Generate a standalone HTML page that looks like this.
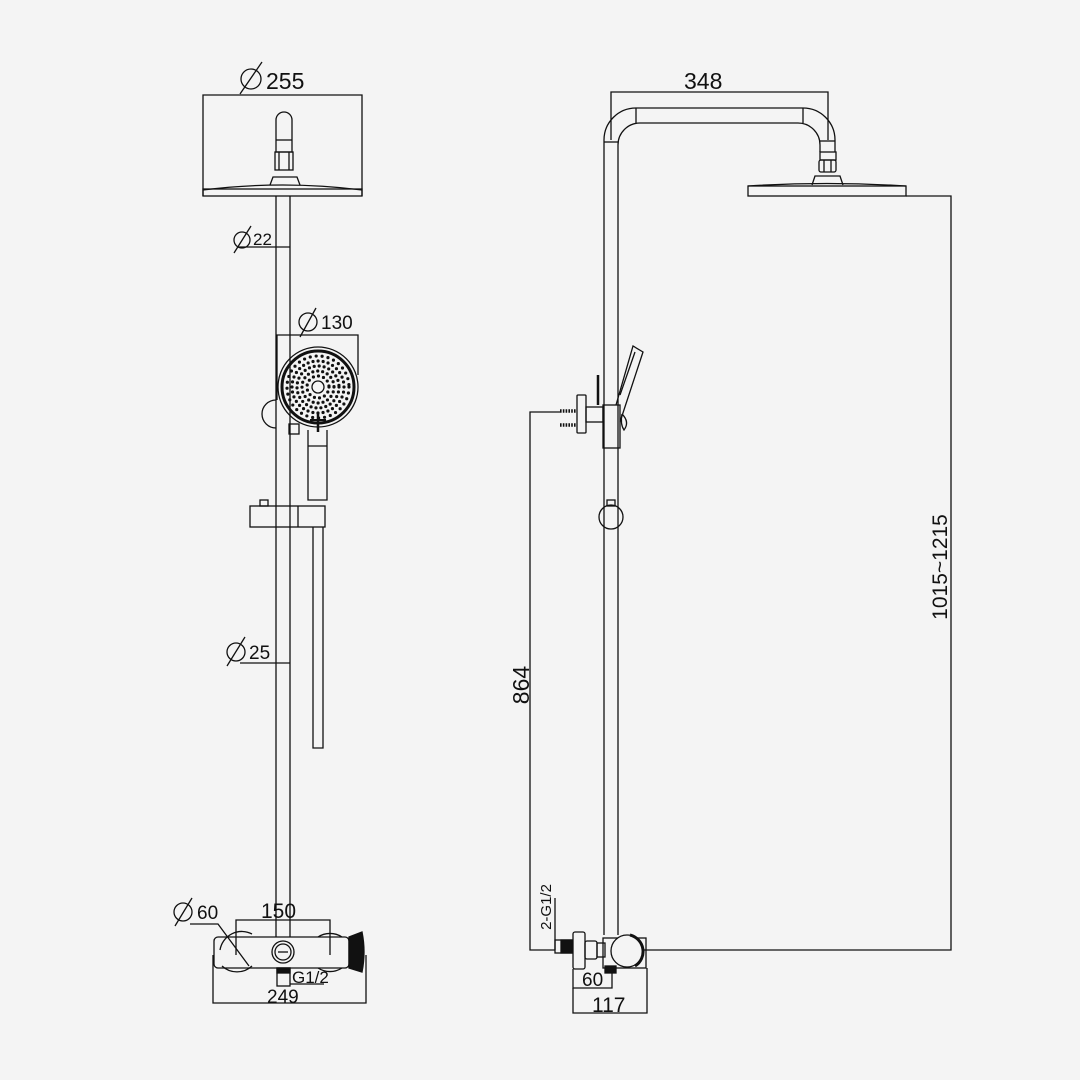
<!DOCTYPE html>
<html><head><meta charset="utf-8"><style>
html,body{margin:0;padding:0;background:#f4f4f4}
svg{display:block}
text{font-family:"Liberation Sans",sans-serif;fill:#111}
</style></head><body>
<svg width="1080" height="1080" viewBox="0 0 1080 1080" xmlns="http://www.w3.org/2000/svg">
<rect width="1080" height="1080" fill="#f4f4f4"/>
<g fill="none" stroke="#111" stroke-width="1.3">
<!-- ===== LEFT VIEW ===== -->
<path d="M203 196 V95 H362 V196"/>
<line x1="240" y1="94" x2="262" y2="62"/>
<circle cx="251" cy="79" r="10"/>
<path d="M276 152 V120 A8 8 0 0 1 292 120 V152 Z"/>
<line x1="276" y1="140" x2="292" y2="140"/>
<rect x="275" y="152" width="18" height="18"/>
<line x1="279" y1="152" x2="279" y2="170"/><line x1="289" y1="152" x2="289" y2="170"/>
<path d="M270 185 L273 177 H297 L300 185"/>
<path d="M203 190 Q283 180 362 190"/>
<rect x="203" y="189" width="159" height="7"/>
<line x1="276" y1="196" x2="276" y2="937"/>
<line x1="290" y1="196" x2="290" y2="937"/>
<line x1="237" y1="247" x2="290" y2="247"/>
<circle cx="242" cy="240" r="8"/><line x1="234" y1="253" x2="251" y2="226"/>
<path d="M277 400 V335 H358 V375"/>
<line x1="300" y1="337" x2="316" y2="308"/>
<circle cx="308" cy="322" r="9"/>
<circle cx="318" cy="387" r="40"/>
<circle cx="318" cy="387" r="36" stroke-width="3"/>
<circle cx="318" cy="387" r="6"/>
<g stroke-linecap="round" stroke-width="3.2">
<circle cx="318" cy="387" r="11" stroke-dasharray="0 5.2"/>
<circle cx="318" cy="387" r="16" stroke-dasharray="0 5"/>
<circle cx="318" cy="387" r="21" stroke-dasharray="0 5"/>
<circle cx="318" cy="387" r="26" stroke-dasharray="0 5.1"/>
<circle cx="318" cy="387" r="31" stroke-dasharray="0 6"/>
</g>
<line x1="318" y1="414" x2="318" y2="432" stroke-width="2.5"/>
<line x1="310" y1="420" x2="326" y2="420" stroke-width="2"/>
<path d="M308 430 V500 H327 V430"/>
<line x1="308" y1="446" x2="327" y2="446"/>
<path d="M276 400 A14 14 0 0 0 276 428"/>
<rect x="289" y="424" width="10" height="10"/>
<rect x="250" y="506" width="75" height="21"/>
<line x1="298" y1="506" x2="298" y2="527"/>
<rect x="260" y="500" width="8" height="6"/>
<path d="M313 527 V748 H323 V527"/>
<line x1="240" y1="663" x2="290" y2="663"/>
<circle cx="236" cy="652" r="9"/><line x1="227" y1="666" x2="245" y2="637"/>
<path d="M220 950 A22 22 0 0 1 252 934"/>
<path d="M222 966 A22 22 0 0 0 252 966"/>
<path d="M318 937 A22 22 0 0 1 342 937"/>
<path d="M318 968 A22 22 0 0 0 342 968"/>
<rect x="214" y="937" width="135" height="31" rx="4"/>
<path d="M349 937 L362 932 Q366 952 362 972 L349 968 Z" fill="#111"/>
<circle cx="283" cy="952" r="11"/><circle cx="283" cy="952" r="8"/>
<line x1="278" y1="952" x2="288" y2="952"/>
<rect x="277" y="968" width="13" height="18"/>
<rect x="277" y="968" width="13" height="5" fill="#111"/>
<path d="M190 924 H218 L249 966"/>
<circle cx="183" cy="912" r="9"/><line x1="175" y1="926" x2="192" y2="898"/>
<path d="M236 955 V920 H330 V955"/>
<line x1="290" y1="984" x2="324" y2="984"/>
<path d="M213 955 V1003 H366 V955"/>

<!-- ===== RIGHT VIEW ===== -->
<path d="M604 935 V140 A32 32 0 0 1 636 108 H803 A32 32 0 0 1 835 140 V152"/>
<path d="M618 935 V145 A22 22 0 0 1 640 123 H798 A22 22 0 0 1 820 145 V152"/>
<line x1="604" y1="142" x2="618" y2="142"/>
<line x1="636" y1="108" x2="636" y2="123"/><line x1="803" y1="108" x2="803" y2="123"/>
<line x1="820" y1="141" x2="835" y2="141"/>
<rect x="820" y="152" width="16" height="8"/>
<rect x="819" y="160" width="17" height="12" rx="2"/>
<line x1="824" y1="160" x2="824" y2="172"/><line x1="831" y1="160" x2="831" y2="172"/>
<path d="M812 185 L815 176 H840 L843 185"/>
<path d="M748 186 Q827 181 906 186"/>
<rect x="748" y="186" width="158" height="10"/>
<path d="M611 140 V92 H828 V140"/>
<path d="M906 196 H951 V950 H640"/>
<path d="M560 412 H530 V950 H555"/>
<rect x="577" y="395" width="9" height="38" rx="1"/>
<g stroke-width="3.5" stroke-dasharray="1.6 1.2"><line x1="560" y1="411" x2="576" y2="411"/><line x1="560" y1="425" x2="576" y2="425"/></g>
<rect x="586" y="407" width="17" height="15"/>
<line x1="598" y1="375" x2="598" y2="405" stroke-width="2.5"/>
<rect x="603" y="405" width="17" height="43"/>
<path d="M616 405 L633 346 L643 352 L620 422"/>
<line x1="620" y1="395" x2="635" y2="352"/>
<path d="M622 414 Q630 422 624 430 Q620 424 622 414"/>
<circle cx="611" cy="517" r="12"/>
<rect x="607" y="500" width="8" height="6"/>
<line x1="555" y1="898" x2="555" y2="950"/>
<rect x="555" y="940" width="17" height="13"/>
<rect x="561" y="940" width="11" height="13" fill="#111"/>
<rect x="573" y="932" width="12" height="37" rx="2"/>
<rect x="585" y="941" width="12" height="18" rx="2"/>
<rect x="597" y="943" width="8" height="14"/>
<rect x="603" y="938" width="43" height="30"/>
<circle cx="627" cy="951" r="16" fill="#f4f4f4"/>
<path d="M630 935 A17 17 0 0 1 635 966" stroke-width="3"/>
<rect x="605" y="966" width="11" height="7" fill="#111"/>
<path d="M573 969 V988 H612 V973"/>
<path d="M573 988 V1013 H647 V968"/>
</g>
<text x="266" y="89" font-size="23">255</text>
<text x="253" y="245" font-size="17">22</text>
<text x="321" y="329" font-size="19">130</text>
<text x="249" y="659" font-size="19">25</text>
<text x="197" y="919" font-size="19">60</text>
<text x="261" y="918" font-size="21">150</text>
<text x="292" y="983" font-size="17">G1/2</text>
<text x="267" y="1003" font-size="19">249</text>
<text x="684" y="89" font-size="23">348</text>
<text transform="translate(947 567) rotate(-90)" font-size="21" text-anchor="middle">1015~1215</text>
<text transform="translate(529 685) rotate(-90)" font-size="23" text-anchor="middle">864</text>
<text transform="translate(551 907) rotate(-90)" font-size="15" text-anchor="middle">2-G1/2</text>
<text x="582" y="986" font-size="19">60</text>
<text x="592" y="1012" font-size="21">117</text>
</svg>
</body></html>
